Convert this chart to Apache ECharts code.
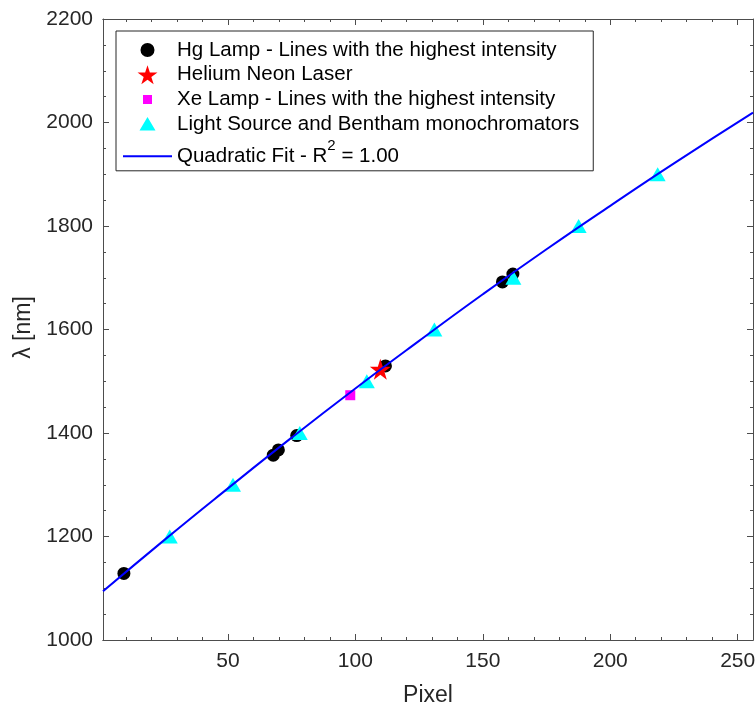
<!DOCTYPE html>
<html>
<head>
<meta charset="utf-8">
<script src="https://cdn.jsdelivr.net/npm/echarts@6/dist/echarts.min.js"></script>
<style>html,body{margin:0;padding:0;background:#fff}#c{width:756px;height:704px}</style>
</head>
<body>
<div id="c"></div>
<script>
// Hg lamp lines (pixel, wavelength nm)
const hgPixel = [9.2, 67.8, 69.8, 77.0, 111.8, 157.7, 161.8];
const hgLambda = [1128.7, 1357.1, 1367.3, 1395.1, 1529.6, 1692.0, 1707.3];
// Helium Neon laser
const heNePixel = [109.8];
const heNeLambda = [1523.1];
// Xe lamp
const xePixel = [98.0];
const xeLambda = [1473.0];
// Light source + Bentham monochromator
const lsPixel = [27.2, 52.0, 78.2, 104.5, 131.0, 162.0, 187.6, 218.6];
const lsLambda = [1200, 1300, 1400, 1500, 1600, 1700, 1800, 1900];
// Quadratic fit curve
const fitPixel = [1, 25, 50, 75, 100, 125, 150, 175, 200, 225, 256];
const fitLambda = [1094, 1193, 1293, 1391, 1486, 1578, 1668, 1755, 1839, 1921, 2019];

const xMajorTicks = [50, 100, 150, 200, 250];
const xMinorTicks = [10, 20, 30, 40, 60, 70, 80, 90, 110, 120, 130, 140, 160, 170, 180, 190, 210, 220, 230, 240];

const names = [
  'Hg Lamp - Lines with the highest intensity',
  'Helium Neon Laser',
  'Xe Lamp - Lines with the highest intensity',
  'Light Source and Bentham monochromators',
  'Quadratic Fit - R^2 = 1.00'
];

const zip = (a, b) => a.map((v, i) => [v, b[i]]);
const FONT = 'Liberation Sans, Arial, Helvetica, sans-serif';
const AX = '#4d4d4d';
const TXT = '#262626';
const STAR = 'path://M50,0 L61.2,34.5 L97.6,34.5 L68.2,55.9 L79.4,90.5 L50,69.1 L20.6,90.5 L31.8,55.9 L2.4,34.5 L38.8,34.5 Z';
// legend icons in a 19x19 box (padded with zero-area corner marks so they keep their size)
const PAD0 = 'M0,0 L0.01,0 Z ';
const PAD1 = ' M19,19 L18.99,19 Z';
const ICON_CIRCLE = 'path://' + PAD0 + 'M2.5,9.5 A7,7 0 1,1 16.5,9.5 A7,7 0 1,1 2.5,9.5 Z' + PAD1;
const ICON_SQUARE = 'path://' + PAD0 + 'M5,5 L14,5 L14,14 L5,14 Z' + PAD1;
const ICON_TRI = 'path://' + PAD0 + 'M9.5,2.5 L17.5,16 L1.5,16 Z' + PAD1;
const ICON_LINE = 'path://M0,6 L49,6 L49,8 L0,8 Z';

function xAx(pos, ticks, len, labels, extra) {
  return Object.assign({
    type: 'value', position: pos, min: 1, max: 256,
    axisLine: { show: true, onZero: false, lineStyle: { color: AX, width: 1 } },
    axisTick: { show: true, inside: true, length: len, customValues: ticks, lineStyle: { color: AX } },
    axisLabel: labels ? { show: true, customValues: ticks, color: TXT, fontSize: 21, fontFamily: FONT, margin: 11 } : { show: false },
    splitLine: { show: false }
  }, extra || {});
}
function yAx(pos, labels, extra) {
  return Object.assign({
    type: 'value', position: pos, min: 1000, max: 2200, interval: 200,
    axisLine: { show: true, onZero: false, lineStyle: { color: AX, width: 1 } },
    axisTick: { show: true, inside: true, length: 6, lineStyle: { color: AX } },
    minorTick: { show: true, splitNumber: 4, length: 3, lineStyle: { color: AX } },
    axisLabel: labels ? { show: true, color: TXT, fontSize: 21, fontFamily: FONT, margin: 10,
      formatter: function (v) { return String(v); } } : { show: false },
    splitLine: { show: false }, minorSplitLine: { show: false }
  }, extra || {});
}

const chart = echarts.init(document.getElementById('c'), null, { renderer: 'canvas' });
chart.setOption({
  animation: false,
  backgroundColor: '#fff',
  textStyle: { fontFamily: FONT },
  grid: { left: 103, right: 3, top: 19, bottom: 64, containLabel: false, outerBoundsMode: 'none' },
  xAxis: [
    xAx('bottom', xMajorTicks, 6, true, {
      name: 'Pixel', nameLocation: 'middle', nameGap: 44,
      nameTextStyle: { fontSize: 23, color: TXT, fontFamily: FONT }
    }),
    xAx('bottom', xMinorTicks, 3, false),
    xAx('top', xMajorTicks, 6, false),
    xAx('top', xMinorTicks, 3, false)
  ],
  yAxis: [
    yAx('left', true, {
      name: 'λ [nm]', nameLocation: 'middle', nameGap: 49, nameRotate: 90,
      nameTextStyle: { fontSize: 23, color: TXT, fontFamily: FONT, padding: [0, 0, 0, 4] }
    }),
    yAx('right', false)
  ],
  legend: {
    orient: 'vertical', left: 116, top: 31,
    data: [
      { name: names[0], icon: ICON_CIRCLE },
      { name: names[1], icon: STAR },
      { name: names[2], icon: ICON_SQUARE },
      { name: names[3], icon: ICON_TRI },
      { name: names[4], icon: ICON_LINE }
    ],
    symbolKeepAspect: true,
    itemWidth: 49, itemHeight: 19, itemGap: 3.7, itemTextGap: 5,
    padding: [8.5, 14, 4, 7],
    backgroundColor: '#fff', borderColor: TXT, borderWidth: 1,
    textStyle: {
      fontSize: 20.5, color: '#000', fontFamily: FONT, lineHeight: 20,
      rich: { sup: { fontSize: 15, verticalAlign: 'bottom', padding: [0, 0, 13, 0], color: '#000', fontFamily: FONT } }
    },
    formatter: function (n) { return n === names[4] ? 'Quadratic Fit - R{sup|2} = 1.00' : n; }
  },
  series: [
    { name: names[0], type: 'scatter', xAxisIndex: 0, yAxisIndex: 0, data: zip(hgPixel, hgLambda),
      symbol: 'circle', symbolSize: 13, itemStyle: { color: '#000', opacity: 1 } },
    { name: names[1], type: 'scatter', xAxisIndex: 0, yAxisIndex: 0, data: zip(heNePixel, heNeLambda),
      symbol: STAR, symbolSize: 21, itemStyle: { color: '#ff0000', opacity: 1 } },
    { name: names[2], type: 'scatter', xAxisIndex: 0, yAxisIndex: 0, data: zip(xePixel, xeLambda),
      symbol: 'rect', symbolSize: 10, itemStyle: { color: '#ff00ff', opacity: 1 } },
    { name: names[3], type: 'scatter', xAxisIndex: 0, yAxisIndex: 0, data: zip(lsPixel, lsLambda),
      symbol: 'triangle', symbolSize: [16, 14], itemStyle: { color: '#00ffff', opacity: 1 } },
    { name: names[4], type: 'line', xAxisIndex: 0, yAxisIndex: 0, data: zip(fitPixel, fitLambda),
      smooth: true, symbol: 'none', showSymbol: false, z: 5,
      lineStyle: { color: '#0000ff', width: 2 }, itemStyle: { color: '#0000ff' } }
  ]
});
</script>
</body>
</html>
